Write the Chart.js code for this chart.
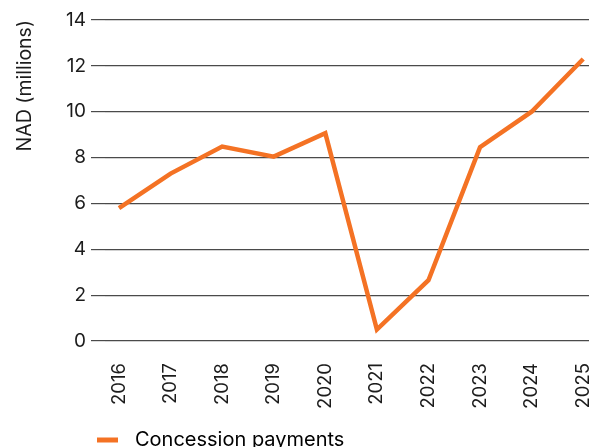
<!DOCTYPE html>
<html>
<head>
<meta charset="utf-8">
<script src="https://cdn.jsdelivr.net/npm/chart.js@4"></script>
<style>
  html, body { margin: 0; padding: 0; background: #fff; overflow: hidden; }
  #wrap { width: 589px; height: 447px; overflow: hidden; }
</style>
</head>
<body>
<div id="wrap"><canvas id="chart" width="620" height="460"></canvas></div>
<script>
// data
var years = [2016, 2017, 2018, 2019, 2020, 2021, 2022, 2023, 2024, 2025];
var payments = [5.8, 7.3, 8.48, 8.04, 9.06, 0.5, 2.65, 8.45, 10.0, 12.3];
var yTicks = [0, 2, 4, 6, 8, 10, 12, 14];
var seriesName = 'Concession payments';

var orange = '#f47224';
var textColor = '#1c1c1c';

Chart.defaults.font.family = 'Inter, "Noto Sans", sans-serif';
Chart.defaults.color = textColor;

// move the legend so it starts under the plot, like the original
var legendShift = {
    id: 'legendShift',
    afterLayout: function(chart) {
        chart.legend.left = 87;
    }
};

window.onload = function() {
    var ctx = document.getElementById('chart').getContext('2d');

    new Chart(ctx, {
        type: 'line',
        data: {
            datasets: [{
                label: seriesName,
                data: years.map(function(y, i) { return { x: y, y: payments[i] }; }),
                borderColor: orange,
                borderWidth: 4.5,
                pointRadius: 0,
                tension: 0
            }]
        },
        options: {
            responsive: false,
            animation: false,
            layout: { padding: { top: 20, right: 20, left: 0, bottom: 0 } },
            scales: {
                x: {
                    type: 'linear',
                    min: 2015.7285,
                    max: 2025.29,
                    afterBuildTicks: function(s) {
                        s.ticks = years.map(function(v) { return { value: v }; });
                    },
                    afterFit: function(s) { s.height = 79; },
                    grid: { display: false },
                    border: { display: false },
                    ticks: {
                        minRotation: 90,
                        maxRotation: 90,
                        padding: 14,
                        font: { size: 18.5 },
                        callback: function(v) { return String(v); }
                    }
                },
                y: {
                    min: 0,
                    max: 14,
                    afterBuildTicks: function(s) {
                        s.ticks = yTicks.map(function(v) { return { value: v }; });
                    },
                    afterFit: function(s) { s.width = 105; },
                    border: { display: false },
                    grid: {
                        color: '#4a4a4a',
                        lineWidth: 1.2,
                        drawTicks: true,
                        tickLength: 14
                    },
                    ticks: {
                        padding: 5,
                        font: { size: 19 }
                    },
                    title: {
                        display: true,
                        text: 'NAD (millions)',
                        align: 'end',
                        font: { size: 19.5 },
                        padding: { top: 13, bottom: 0 }
                    }
                }
            },
            plugins: {
                legend: {
                    position: 'bottom',
                    align: 'start',
                    labels: {
                        font: { size: 20 },
                        boxWidth: 28,
                        boxHeight: 5,
                        padding: 10,
                        generateLabels: function(chart) {
                            // box is wider than the visible dash so the text sits further right
                            var g = chart.ctx.createLinearGradient(97, 0, 125, 0);
                            g.addColorStop(0, orange);
                            g.addColorStop(0.75, orange);
                            g.addColorStop(0.75, 'rgba(255,255,255,0)');
                            g.addColorStop(1, 'rgba(255,255,255,0)');
                            return [{
                                text: seriesName,
                                fillStyle: g,
                                strokeStyle: 'rgba(0,0,0,0)',
                                lineWidth: 0,
                                hidden: false,
                                datasetIndex: 0
                            }];
                        }
                    }
                },
                tooltip: { enabled: false }
            }
        },
        plugins: [legendShift]
    });
};
</script>
</body>
</html>
